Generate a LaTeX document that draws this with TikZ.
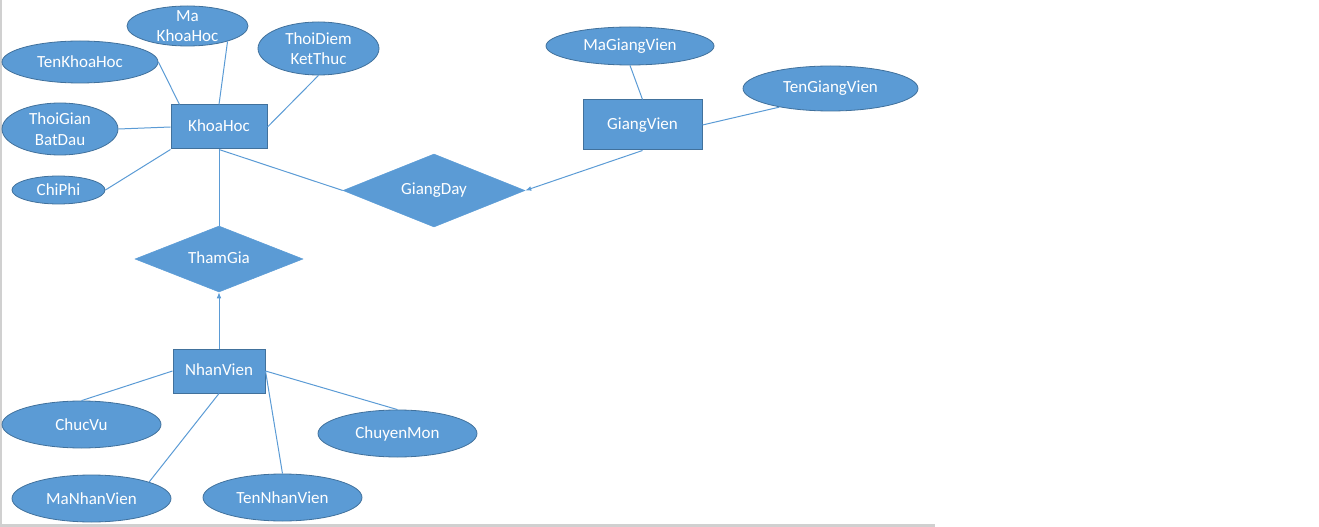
\documentclass[tikz,border=0pt]{standalone}
\usepackage{fontspec}
\setmainfont{Carlito}
\usetikzlibrary{shapes.geometric,arrows.meta}
\definecolor{erfill}{HTML}{5B9BD5}
\definecolor{erdraw}{HTML}{41719C}
\definecolor{pageedge}{HTML}{D0D0D0}
\tikzstyle{block} = [rectangle, draw=erdraw, fill=erfill, text=white, line width=0.75pt,
    inner sep=0pt, text height=0.75em, text depth=0.1em]
\tikzstyle{attr} = [ellipse, draw=erdraw, fill=erfill, text=white, line width=0.6pt,
    inner xsep=0pt, inner ysep=-6pt, align=center]
\tikzstyle{rel} = [diamond, aspect=2.5, draw=erfill, fill=erfill, text=white, inner sep=0pt,
    text height=0.75em, text depth=0.1em]
\tikzstyle{line} = [draw=erfill, line width=0.75pt]
\tikzstyle{arrowline} = [line, -{Latex[length=4.5pt,width=3.5pt]}]

\begin{document}
\begin{tikzpicture}[x=0.75pt,y=-0.75pt,font=\fontsize{12.75}{15.5}\selectfont]
    \useasboundingbox (0,0) rectangle (1319,527);
    % Page edge
    \draw[pageedge, line width=1pt] (1,0) -- (1,524);
    \draw[pageedge, line width=2pt] (0,525.5) -- (935,525.5);
    % Place nodes
    \node [block, minimum width=72pt, minimum height=33pt] (kh) at (219,127) {KhoaHoc};
    \node [block, minimum width=89.25pt, minimum height=37.5pt] (gv) at (642.5,125) {GiangVien};
    \node [block, minimum width=69pt, minimum height=33pt] (nv) at (219,371) {NhanVien};
    \node [rel, minimum width=136.5pt, minimum height=54.75pt] (gd) at (434,190.5) {GiangDay};
    \node [rel, minimum width=126pt, minimum height=49.5pt] (tg) at (219,259) {ThamGia};
    \node [attr, minimum width=90.75pt, minimum height=30pt] (mkh) at (187.5,26) {Ma\\KhoaHoc};
    \node [attr, minimum width=117pt, minimum height=31.5pt] (tkh) at (80,62) {TenKhoaHoc};
    \node [attr, minimum width=90.75pt, minimum height=39.75pt] (tdkt) at (318.5,48.5) {ThoiDiem\\KetThuc};
    \node [attr, minimum width=87pt, minimum height=39pt] (tgbd) at (60,129) {ThoiGian\\BatDau};
    \node [attr, minimum width=69.75pt, minimum height=21pt] (cp) at (58.5,190) {ChiPhi};
    \node [attr, minimum width=126pt, minimum height=28.5pt] (mgv) at (630,46) {MaGiangVien};
    \node [attr, minimum width=131.25pt, minimum height=33.75pt] (tgv) at (830.5,88.5) {TenGiangVien};
    \node [attr, minimum width=119.25pt, minimum height=35.25pt] (cv) at (81.5,424.5) {ChucVu};
    \node [attr, minimum width=119.25pt, minimum height=35.25pt] (cm) at (397.5,433.5) {ChuyenMon};
    \node [attr, minimum width=119.25pt, minimum height=35.25pt] (mnv) at (91.5,498.5) {MaNhanVien};
    \node [attr, minimum width=119.25pt, minimum height=35.25pt] (tnv) at (282.5,497.5) {TenNhanVien};
    % Draw edges
    \path [line] (tkh.east) -- ([xshift=6.75pt]kh.north west);
    \path [line] (mkh.-21) -- (kh.north);
    \path [line] (tdkt.south) -- (kh.east);
    \path [line] (tgbd.east) -- (kh.west);
    \path [line] (cp.east) -- (kh.south west);
    \path [line] (kh.south) -- (tg.north);
    \path [line] (kh.south) -- (gd.west);
    \path [arrowline] (gv.south) -- (gd.east);
    \path [line] (mgv.south) -- (gv.north);
    \path [line] (tgv.200) -- (gv.east);
    \path [arrowline] (nv.north) -- (tg.south);
    \path [line] (cv.north) -- (nv.west);
    \path [line] (mnv.16) -- (nv.south);
    \path [line] (tnv.north) -- (nv.east);
    \path [line] (cm.north) -- (nv.east);
\end{tikzpicture}
\end{document}
